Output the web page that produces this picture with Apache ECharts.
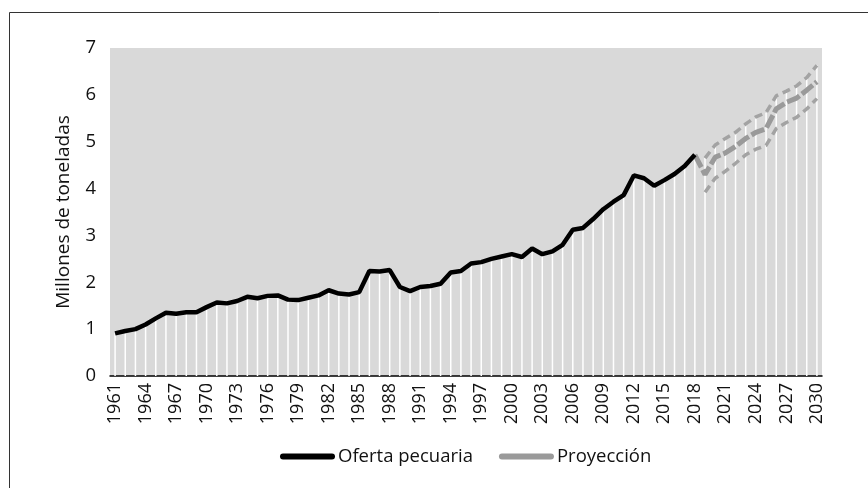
<!DOCTYPE html>
<html>
<head>
<meta charset="utf-8">
<script src="https://cdn.jsdelivr.net/npm/echarts@6/dist/echarts.min.js"></script>
<style>
  html, body { margin: 0; padding: 0; background: #fff; }
  #chart { width: 868px; height: 488px; }
</style>
</head>
<body>
<div id="chart"></div>
<script>
// años 1961-2030
var years = [];
for (var y = 1961; y <= 2030; y++) years.push(String(y));

// oferta pecuaria 1961-2018 (millones de toneladas)
var oferta = [
  0.91, 0.96, 1.00, 1.10, 1.23, 1.35, 1.33, 1.36, 1.36, 1.47,
  1.57, 1.55, 1.60, 1.69, 1.66, 1.71, 1.72, 1.63, 1.62, 1.67,
  1.72, 1.83, 1.76, 1.74, 1.79, 2.24, 2.23, 2.26, 1.90, 1.81,
  1.90, 1.92, 1.97, 2.21, 2.24, 2.40, 2.43, 2.50, 2.55, 2.60,
  2.54, 2.72, 2.60, 2.66, 2.80, 3.12, 3.16, 3.35, 3.56, 3.72,
  3.86, 4.28, 4.22, 4.06, 4.18, 4.31, 4.48, 4.72
];
// proyeccion 2018-2030
var proyeccion = [4.72, 4.30, 4.67, 4.76, 4.90, 5.07, 5.20, 5.28, 5.70, 5.84, 5.93, 6.10, 6.28];
// limites 2019-2030
var limiteSup = [4.65, 4.93, 5.07, 5.20, 5.38, 5.53, 5.62, 5.98, 6.08, 6.19, 6.37, 6.63];
var limiteInf = [3.92, 4.22, 4.37, 4.54, 4.72, 4.84, 4.92, 5.28, 5.41, 5.52, 5.70, 5.92];

function pad(arr, start) {
  var out = [];
  for (var i = 0; i < years.length; i++) {
    var k = i - (start - 1961);
    out.push(k >= 0 && k < arr.length ? arr[k] : null);
  }
  return out;
}
var serOferta = pad(oferta, 1961);
var serProy = pad(proyeccion, 2018);
var serSup = pad(limiteSup, 2019);
var serInf = pad(limiteInf, 2019);
// lineas blancas hasta el valor mas alto de cada año
var serBarras = years.map(function (_, i) {
  var v = [serOferta[i], serProy[i], serSup[i]].filter(function (x) { return x != null; });
  return Math.max.apply(null, v);
});

var font = '"Open Sans", "Noto Sans", sans-serif';
var icono = 'path://M3,0H52A3,3,0,0,1,52,6H3A3,3,0,0,1,3,0Z';
var chart = echarts.init(document.getElementById('chart'));
chart.setOption({
  animation: false,
  textStyle: { fontFamily: font },
  graphic: [{
    type: 'rect',
    shape: { x: 9.5, y: 12.5, width: 880, height: 500 },
    style: { fill: 'none', stroke: '#333', lineWidth: 1 },
    silent: true
  }],
  grid: {
    left: 110, right: 46, top: 48, bottom: 112,
    show: true, backgroundColor: '#d9d9d9', borderWidth: 0
  },
  legend: {
    bottom: 17,
    left: 275,
    itemWidth: 55,
    itemHeight: 6,
    itemGap: 26,
    textStyle: { fontSize: 18.5, color: '#111', fontFamily: font, padding: [0, 0, 0, -2] },
    data: [
      { name: 'Oferta pecuaria', icon: icono },
      { name: 'Proyección', icon: icono }
    ]
  },
  xAxis: {
    type: 'category',
    data: years,
    boundaryGap: true,
    axisLine: { lineStyle: { color: '#000', width: 1.5 } },
    axisTick: { show: false },
    axisLabel: { interval: 2, rotate: 90, fontSize: 18, color: '#111', margin: 7 }
  },
  yAxis: {
    type: 'value',
    min: 0, max: 7, interval: 1,
    name: 'Millones de toneladas',
    nameLocation: 'middle',
    nameGap: 37,
    nameTextStyle: { fontSize: 19, color: '#111' },
    axisLine: { show: false },
    axisTick: { show: false },
    splitLine: { show: false },
    axisLabel: { fontSize: 18.5, color: '#111', margin: 14 }
  },
  series: [
    {
      type: 'bar',
      data: serBarras,
      barWidth: 1.5,
      itemStyle: { color: '#ffffff' },
      silent: true,
      z: 1
    },
    {
      name: 'Límite superior',
      type: 'line',
      data: serSup,
      showSymbol: false,
      lineStyle: { color: '#a3a3a3', width: 3.5, type: [8, 5] },
      itemStyle: { color: '#a3a3a3' },
      z: 3
    },
    {
      name: 'Límite inferior',
      type: 'line',
      data: serInf,
      showSymbol: false,
      lineStyle: { color: '#a3a3a3', width: 3.5, type: [8, 5] },
      itemStyle: { color: '#a3a3a3' },
      z: 3
    },
    {
      name: 'Proyección media',
      type: 'line',
      data: serProy,
      showSymbol: false,
      lineStyle: { color: '#9a9a9a', width: 5, type: [14, 3] },
      itemStyle: { color: '#9a9a9a' },
      z: 4
    },
    {
      // solo para la leyenda (trazo continuo)
      name: 'Proyección',
      type: 'line',
      data: [],
      showSymbol: false,
      lineStyle: { color: '#9a9a9a', width: 5 },
      itemStyle: { color: '#9a9a9a', borderWidth: 0 }
    },
    {
      name: 'Oferta pecuaria',
      type: 'line',
      data: serOferta,
      showSymbol: false,
      lineStyle: { color: '#000', width: 4.5 },
      itemStyle: { color: '#000', borderWidth: 0 },
      z: 5
    }
  ]
});
</script>
</body>
</html>
